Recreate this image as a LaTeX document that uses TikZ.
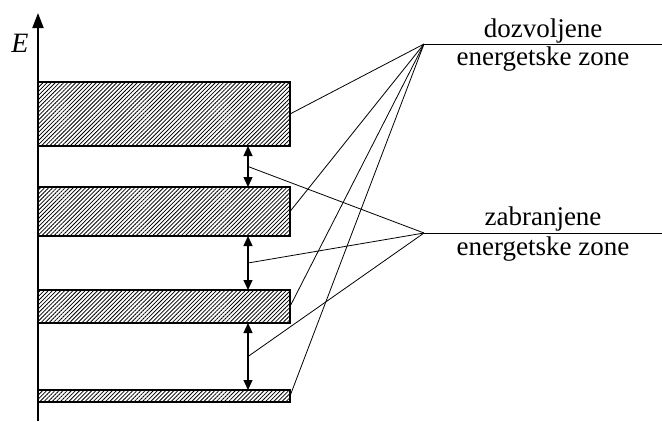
\documentclass[tikz,border=0pt]{standalone}
\usepackage{fontspec}
\setmainfont{Liberation Serif}
\usetikzlibrary{arrows.meta,patterns.meta,calc}
\begin{document}
\begin{tikzpicture}[x=1pt,y=-1pt,
  band/.style={draw,line width=2.2pt,minimum width=252pt,inner sep=0pt,outer sep=0pt,
    pattern={Lines[angle=45,distance=2.9pt,line width=0.8pt]}},
  axisline/.style={line width=2pt,-{Triangle[length=15pt,width=11pt]}},
  dbl/.style={line width=1.3pt,{Triangle[length=10pt,width=9pt]}-{Triangle[length=10pt,width=9pt]}},
  leader/.style={line width=0.8pt},
  lbl/.style={font=\fontsize{27}{32}\selectfont,anchor=base,inner sep=0pt}]
\useasboundingbox (0,0) rectangle (662,421);
% axis
\coordinate (O) at (38,421);
\coordinate (T) at (38,13);
\draw[axisline] (O) -- (T);
\node[lbl,font=\fontsize{28}{32}\selectfont\itshape] (E) at (20,52) {E};
% bands
\node[band,minimum height=64pt] (b1) at (164,114) {};
\node[band,minimum height=49pt] (b2) at (164,211.5) {};
\node[band,minimum height=33pt] (b3) at (164,306.5) {};
\node[band,minimum height=12pt] (b4) at (164,396) {};
% gap arrows
\coordinate (ax) at (248,0);
\draw[dbl] (b1.south -| ax) -- (b2.north -| ax);
\draw[dbl] (b2.south -| ax) -- (b3.north -| ax);
\draw[dbl] (b3.south -| ax) -- (b4.north -| ax);
\coordinate (g1) at ($(b1.south -| ax)!0.5!(b2.north -| ax)$);
\coordinate (g2) at ($(b2.south -| ax)!0.5!(b3.north -| ax)$);
\coordinate (g3) at ($(b3.south -| ax)!0.5!(b4.north -| ax)$);
% leader points
\coordinate (P) at (424,44);
\coordinate (Q) at (424,233);
\coordinate (Pe) at (662,44);
\coordinate (Qe) at (662,233);
\draw[leader] (P) -- (Pe);
\draw[leader] (Q) -- (Qe);
\draw[leader] (P) -- (b1.east);
\draw[leader] (P) -- (b2.east);
\draw[leader] (P) -- (b3.east);
\draw[leader] (P) -- (b4.east);
\draw[leader] (Q) -- (g1);
\draw[leader] (Q) -- (g2);
\draw[leader] (Q) -- (g3);
% labels
\node[lbl] (t1) at (543,37) {dozvoljene};
\node[lbl] (t2) at (543,65) {energetske zone};
\node[lbl] (t3) at (543,225) {zabranjene};
\node[lbl] (t4) at (543,255) {energetske zone};
\end{tikzpicture}
\end{document}
